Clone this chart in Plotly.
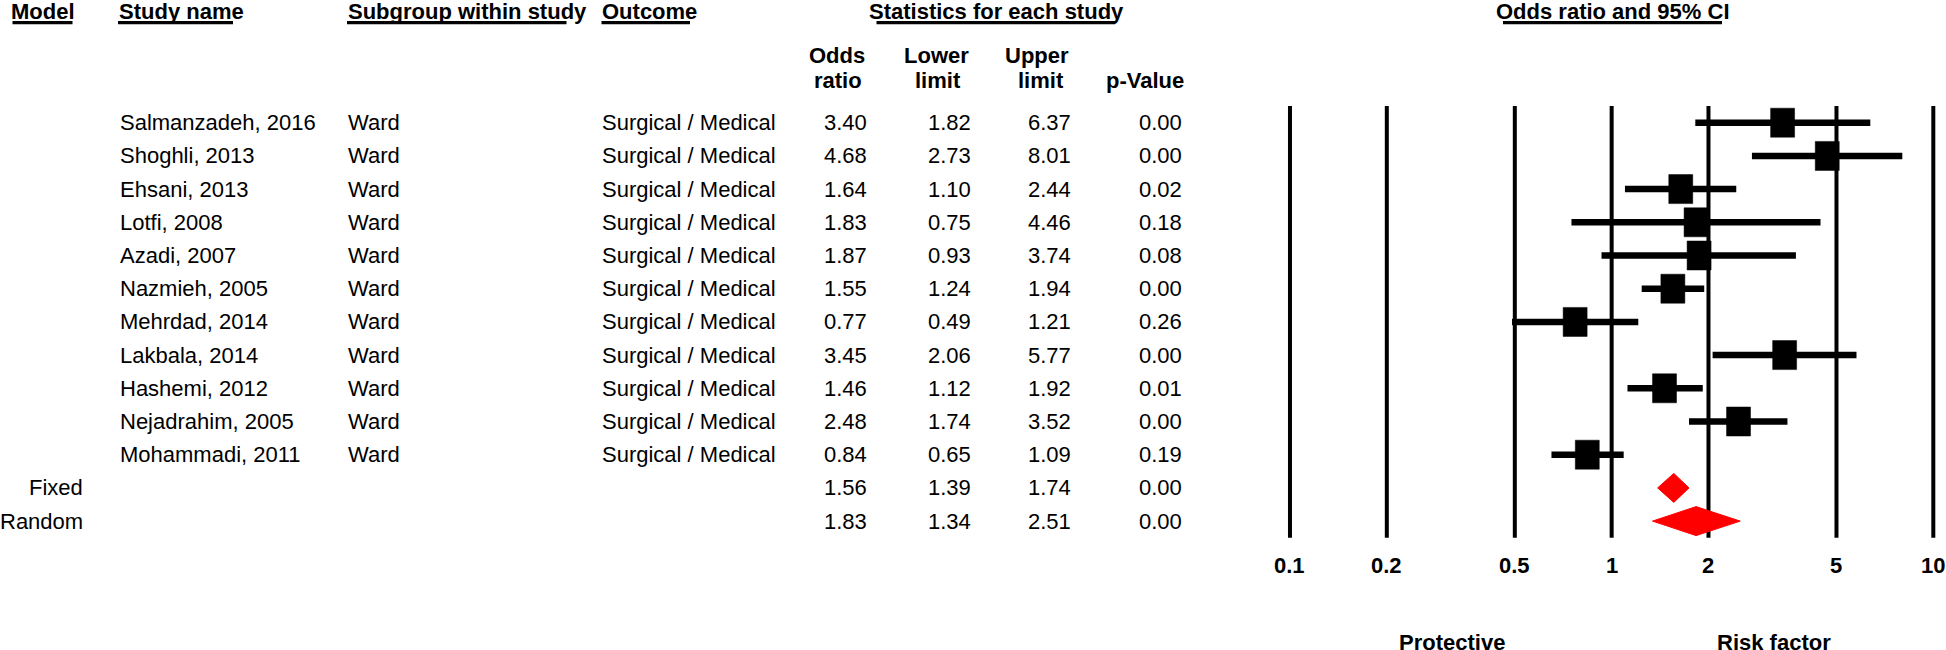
import numpy as np
import plotly.graph_objects as go

# ---------------- data ----------------
studies = ["Salmanzadeh, 2016", "Shoghli, 2013", "Ehsani, 2013", "Lotfi, 2008",
           "Azadi, 2007", "Nazmieh, 2005", "Mehrdad, 2014", "Lakbala, 2014",
           "Hashemi, 2012", "Nejadrahim, 2005", "Mohammadi, 2011"]
subgroups = ["Ward"] * 11
outcomes = ["Surgical / Medical"] * 11
odds_ratio = [3.40, 4.68, 1.64, 1.83, 1.87, 1.55, 0.77, 3.45, 1.46, 2.48, 0.84]
lower_limit = [1.82, 2.73, 1.10, 0.75, 0.93, 1.24, 0.49, 2.06, 1.12, 1.74, 0.65]
upper_limit = [6.37, 8.01, 2.44, 4.46, 3.74, 1.94, 1.21, 5.77, 1.92, 3.52, 1.09]
p_values = [0.00, 0.00, 0.02, 0.18, 0.08, 0.00, 0.26, 0.00, 0.01, 0.00, 0.19]

models = ["Fixed", "Random"]
pooled_or = [1.56, 1.83]
pooled_lower = [1.39, 1.34]
pooled_upper = [1.74, 2.51]
pooled_p = [0.00, 0.00]

tick_values = [0.1, 0.2, 0.5, 1, 2, 5, 10]
tick_labels = ["0.1", "0.2", "0.5", "1", "2", "5", "10"]

# ---------------- geometry helpers ----------------
W, H = 1946, 650
ROW0_PX = 122.7
ROW_PX = 33.2
FONT = "Liberation Sans, Arial, sans-serif"
FS = 22


def px_to_row(py):
    return (py - ROW0_PX) / ROW_PX


def px_x(px):
    return px / W


def px_y(py):
    return 1 - py / H


n = len(studies)
study_rows = list(range(n))
pooled_rows = [n, n + 1]

fig = go.Figure()

# vertical reference lines at tick values
vx, vy = [], []
for t in tick_values:
    vx += [t, t, None]
    vy += [-0.5, n + 1.5, None]
fig.add_trace(go.Scatter(x=vx, y=vy, mode="lines",
                         line=dict(color="black", width=4),
                         hoverinfo="skip", showlegend=False))

# whiskers
wx, wy = [], []
for r, lo, hi in zip(study_rows, lower_limit, upper_limit):
    wx += [lo, hi, None]
    wy += [r, r, None]
fig.add_trace(go.Scatter(x=wx, y=wy, mode="lines",
                         line=dict(color="black", width=6.5),
                         hoverinfo="skip", showlegend=False))

# squares (fixed pixel size: 24 wide, 29 tall)
half_w_dec = 12 / 322.0
half_h = 14.5 / ROW_PX
sx, sy = [], []
for r, o in zip(study_rows, odds_ratio):
    x0 = o * 10 ** (-half_w_dec)
    x1 = o * 10 ** (half_w_dec)
    sx += [x0, x1, x1, x0, x0, None]
    sy += [r - half_h, r - half_h, r + half_h, r + half_h, r - half_h, None]
fig.add_trace(go.Scatter(x=sx, y=sy, mode="lines", fill="toself",
                         fillcolor="black", line=dict(color="black", width=0.5),
                         hoverinfo="skip", showlegend=False))

# diamonds
dh = 14.5 / ROW_PX
dx, dy = [], []
for r, o, lo, hi in zip(pooled_rows, pooled_or, pooled_lower, pooled_upper):
    dx += [lo, o, hi, o, lo, None]
    dy += [r, r - dh, r, r + dh, r, None]
fig.add_trace(go.Scatter(x=dx, y=dy, mode="lines", fill="toself",
                         fillcolor="#FF0000", line=dict(color="#FF0000", width=1),
                         hoverinfo="skip", showlegend=False))

annotations = []


def txt(text, xpx, row, anchor="left", bold=False):
    annotations.append(dict(
        text=f"<b>{text}</b>" if bold else text,
        x=px_x(xpx), xref="paper", y=row, yref="y",
        xanchor=anchor, yanchor="middle", showarrow=False,
        font=dict(family=FONT, size=FS, color="black")))


# headers
hdr_row = px_to_row(11)
txt("Model", 9, hdr_row, bold=True)
txt("Study name", 117, hdr_row, bold=True)
txt("Subgroup within study", 345.5, hdr_row, bold=True)
txt("Outcome", 600, hdr_row, bold=True)
txt("Statistics for each study", 996, hdr_row, anchor="center", bold=True)
txt("Odds ratio and 95% CI", 1612.5, hdr_row, anchor="center", bold=True)

r1 = px_to_row(55.5)
r2 = px_to_row(80.5)
txt("Odds", 837, r1, anchor="center", bold=True)
txt("ratio", 838, r2, anchor="center", bold=True)
txt("Lower", 936, r1, anchor="center", bold=True)
txt("limit", 938, r2, anchor="center", bold=True)
txt("Upper", 1037, r1, anchor="center", bold=True)
txt("limit", 1041, r2, anchor="center", bold=True)
txt("p-Value", 1144.5, r2, anchor="center", bold=True)

# study rows
for r, s, g, oc, o, lo, hi, p in zip(study_rows, studies, subgroups, outcomes,
                                     odds_ratio, lower_limit, upper_limit, p_values):
    txt(s, 117.5, r)
    txt(g, 345.5, r)
    txt(oc, 600, r)
    txt(f"{o:.2f}", 869, r, anchor="right")
    txt(f"{lo:.2f}", 972.5, r, anchor="right")
    txt(f"{hi:.2f}", 1073, r, anchor="right")
    txt(f"{p:.2f}", 1183.5, r, anchor="right")

# pooled rows
for r, m, o, lo, hi, p in zip(pooled_rows, models, pooled_or, pooled_lower,
                              pooled_upper, pooled_p):
    txt(m, 84.5, r, anchor="right")
    txt(f"{o:.2f}", 869, r, anchor="right")
    txt(f"{lo:.2f}", 972.5, r, anchor="right")
    txt(f"{hi:.2f}", 1073, r, anchor="right")
    txt(f"{p:.2f}", 1183.5, r, anchor="right")

# axis tick labels
tick_row = px_to_row(565)
for t, lab in zip(tick_values, tick_labels):
    annotations.append(dict(
        text=f"<b>{lab}</b>", x=np.log10(t), xref="x", y=tick_row, yref="y",
        xanchor="center", yanchor="middle", showarrow=False,
        font=dict(family=FONT, size=FS, color="black")))

# bottom side labels
side_row = px_to_row(642)
for lab, xv in [("Protective", 0.32), ("Risk factor", 3.2)]:
    annotations.append(dict(
        text=f"<b>{lab}</b>", x=np.log10(xv), xref="x", y=side_row, yref="y",
        xanchor="center", yanchor="middle", showarrow=False,
        font=dict(family=FONT, size=FS, color="black")))

# header underlines
shapes = []
for x0, x1 in [(12.5, 72.5), (118, 233), (347, 566.5), (601.5, 690),
               (876.5, 1115), (1503, 1722)]:
    shapes.append(dict(type="line", xref="paper", yref="paper",
                       x0=px_x(x0), x1=px_x(x1), y0=px_y(22.7), y1=px_y(22.7),
                       line=dict(color="black", width=3.2)))

x_left_px = 1290 - 0.05 * 322
x_right_px = 1933.3 + 0.03 * 322

fig.update_layout(
    width=W, height=H,
    margin=dict(l=0, r=0, t=0, b=0),
    paper_bgcolor="white", plot_bgcolor="white",
    showlegend=False,
    annotations=annotations,
    shapes=shapes,
    xaxis=dict(type="log", range=[-1.05, 1.03],
               domain=[x_left_px / W, x_right_px / W],
               visible=False, showgrid=False, zeroline=False, fixedrange=True),
    yaxis=dict(range=[px_to_row(H), px_to_row(0)], domain=[0, 1],
               visible=False, showgrid=False, zeroline=False, fixedrange=True),
)

fig.write_html(
    "out.html",
    config={"displayModeBar": False},
    post_script="document.body.style.margin='0';document.body.style.overflow='hidden';",
)
